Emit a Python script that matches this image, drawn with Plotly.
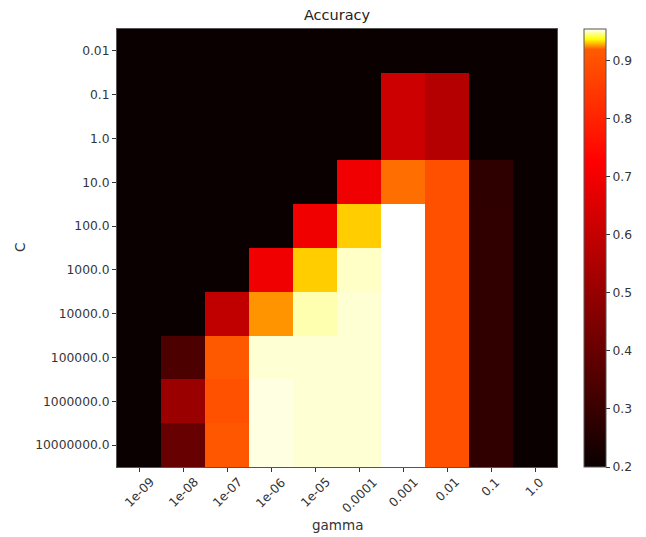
import plotly.graph_objects as go
import numpy as np

gamma_labels = ["1e-09", "1e-08", "1e-07", "1e-06", "1e-05", "0.0001", "0.001", "0.01", "0.1", "1.0"]
C_labels = ["0.01", "0.1", "1.0", "10.0", "100.0", "1000.0", "10000.0", "100000.0", "1000000.0", "10000000.0"]

scores = [
    [0.2, 0.2, 0.2, 0.2, 0.2, 0.2, 0.2, 0.2, 0.2, 0.2],
    [0.2, 0.2, 0.2, 0.2, 0.2, 0.2, 0.616, 0.564, 0.2, 0.2],
    [0.2, 0.2, 0.2, 0.2, 0.2, 0.2, 0.616, 0.564, 0.2, 0.2],
    [0.2, 0.2, 0.2, 0.2, 0.2, 0.693, 0.922, 0.898, 0.278, 0.2],
    [0.2, 0.2, 0.2, 0.2, 0.697, 0.932, 0.955, 0.898, 0.28, 0.2],
    [0.2, 0.2, 0.2, 0.693, 0.932, 0.951, 0.955, 0.898, 0.28, 0.2],
    [0.2, 0.2, 0.590, 0.926, 0.9495, 0.952, 0.955, 0.898, 0.28, 0.2],
    [0.2, 0.343, 0.918, 0.952, 0.952, 0.952, 0.955, 0.898, 0.28, 0.2],
    [0.2, 0.51, 0.90, 0.953, 0.952, 0.952, 0.955, 0.898, 0.28, 0.2],
    [0.2, 0.40, 0.91, 0.953, 0.952, 0.952, 0.955, 0.898, 0.28, 0.2],
]

vmin, midpoint, vmax = 0.2, 0.92, 0.955
cbar_ticks = [0.2, 0.3, 0.4, 0.5, 0.6, 0.7, 0.8, 0.9]


def hot(f):
    f = min(max(f, 0.0), 1.0)
    r = 0.0416 + (1 - 0.0416) * f / 0.365079 if f < 0.365079 else 1.0
    g = 0.0 if f < 0.365079 else min(1.0, (f - 0.365079) / (0.746032 - 0.365079))
    b = 0.0 if f < 0.746032 else (f - 0.746032) / (1 - 0.746032)
    return "rgb(%d,%d,%d)" % (round(r * 255), round(g * 255), round(b * 255))


def norm(v):
    if v <= midpoint:
        return 0.5 * (v - vmin) / (midpoint - vmin)
    return 0.5 + 0.5 * (v - midpoint) / (vmax - midpoint)


colorscale = []
for p in np.linspace(0, 1, 301):
    v = vmin + p * (vmax - vmin)
    colorscale.append([float(p), hot(norm(v))])

TF = dict(family="DejaVu Sans", size=12.3, color="#333")
LF = dict(family="DejaVu Sans", size=13.5, color="#333")

fig = go.Figure(go.Heatmap(
    z=scores,
    x=list(range(len(gamma_labels))),
    y=list(range(len(C_labels))),
    colorscale=colorscale,
    zmin=vmin, zmax=vmax,
    xgap=0, ygap=0,
    colorbar=dict(
        x=1.061, xanchor="left", xref="paper",
        y=0, yanchor="bottom", len=1.0, lenmode="fraction",
        thickness=22, thicknessmode="pixels",
        outlinecolor="#555", outlinewidth=1,
        tickvals=cbar_ticks, ticktext=[str(t) for t in cbar_ticks],
        ticks="outside", ticklen=4, tickcolor="#333",
        tickfont=TF,
        xpad=0, ypad=0,
    ),
))

annotations = [
    dict(text="gamma", xref="paper", yref="paper", x=0.5, y=-(525 - 467) / 438,
         xanchor="center", yanchor="middle", showarrow=False, font=LF),
    dict(text="C", xref="paper", yref="paper", x=-(117 - 20) / 440, y=0.5,
         xanchor="center", yanchor="middle", showarrow=False, textangle=-90, font=LF),
]
for i, lab in enumerate(gamma_labels):
    annotations.append(dict(text=lab, xref="x", yref="paper", x=i, y=-(474 - 467) / 438,
                            xanchor="center", yanchor="top", showarrow=False, textangle=-45,
                            font=TF, borderpad=0))

fig.update_layout(
    width=646, height=537,
    margin=dict(l=117, r=89, t=29, b=70, autoexpand=False),
    paper_bgcolor="white", plot_bgcolor="white",
    title=dict(text="Accuracy", x=(117 + 220) / 646, xanchor="center", y=1 - 15 / 537, yanchor="middle",
               font=dict(family="DejaVu Sans", size=14.5, color="#222")),
    font=dict(family="DejaVu Sans", size=12.3, color="#333"),
    annotations=annotations,
)
fig.update_xaxes(
    range=[-0.5, 9.5], tickvals=list(range(10)), showticklabels=False,
    ticks="outside", ticklen=4, tickcolor="#333", showgrid=False, zeroline=False,
    showline=True, linecolor="#555", linewidth=1, mirror=True, automargin=False,
)
fig.update_yaxes(
    range=[9.5, -0.5], tickvals=list(range(10)), ticktext=C_labels,
    ticks="outside", ticklen=4, tickcolor="#333", showgrid=False, zeroline=False,
    showline=True, linecolor="#555", linewidth=1, mirror=True, automargin=False,
    tickfont=TF,
)

fig.write_html("out.html")
